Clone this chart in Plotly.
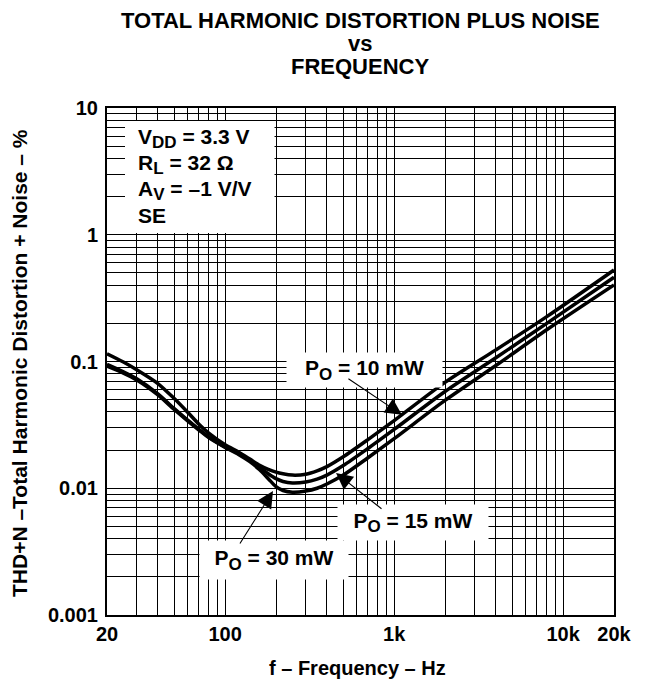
import math
import plotly.graph_objects as go

# ---------------- data ----------------
freq_hz = [20, 25, 30, 40, 50, 60, 70, 80, 100, 120, 140, 160, 180, 200, 220,
           250, 300, 350, 400, 500, 700, 1000, 2000, 4000, 8000, 20000]

thd_10mw = [0.115, 0.099, 0.086, 0.067, 0.051, 0.0398, 0.032, 0.0272, 0.0220,
            0.0193, 0.0170, 0.0152, 0.0141, 0.0134, 0.0130, 0.0127, 0.0129,
            0.0137, 0.0148, 0.0177, 0.0242, 0.0342, 0.0685, 0.1235, 0.226, 0.527]

thd_15mw = [0.095, 0.083, 0.073, 0.0555, 0.0425, 0.0345, 0.0292, 0.0254, 0.0212,
            0.0188, 0.0166, 0.0146, 0.0130, 0.0119, 0.0113, 0.0110, 0.0112,
            0.0118, 0.0127, 0.0151, 0.0206, 0.0291, 0.058, 0.107, 0.200, 0.462]

thd_30mw = [0.092, 0.081, 0.0715, 0.0545, 0.0418, 0.034, 0.0288, 0.0251, 0.0210,
            0.0185, 0.0162, 0.0140, 0.0119, 0.0103, 0.0096, 0.0093, 0.0095,
            0.0100, 0.0108, 0.0127, 0.0174, 0.0246, 0.0493, 0.093, 0.178, 0.402]

x_tick_vals = [20, 100, 1000, 10000, 20000]
x_tick_text = ["20", "100", "1k", "10k", "20k"]
x_grid_vals = [30, 40, 50, 60, 70, 80, 90,
               200, 300, 400, 500, 600, 700, 800, 900,
               2000, 3000, 4000, 5000, 6000, 7000, 8000, 9000]

y_tick_vals = [0.001, 0.01, 0.1, 1, 10]
y_tick_text = ["0.001", "0.01", "0.1", "1", "10"]
y_grid_vals = [0.002, 0.003, 0.004, 0.005, 0.006, 0.007, 0.008, 0.009,
               0.02, 0.03, 0.04, 0.05, 0.06, 0.07, 0.08, 0.09,
               0.2, 0.3, 0.4, 0.5, 0.6, 0.7, 0.8, 0.9,
               2, 3, 4, 5, 6, 7, 8, 9]

title_lines = ["TOTAL HARMONIC DISTORTION PLUS NOISE", "vs", "FREQUENCY"]
x_title = "f \u2013 Frequency \u2013 Hz"
y_title = "THD+N \u2013Total Harmonic Distortion + Noise \u2013 %"
SUB = '<sub><span style="font-size:17px">{}</span></sub>'
cond_lines = ["V" + SUB.format("DD") + " = 3.3 V",
              "R" + SUB.format("L") + " = 32 \u03a9",
              "A" + SUB.format("V") + " = \u20131 V/V",
              "SE"]
curve_labels = ["P" + SUB.format("O") + " = 10 mW",
                "P" + SUB.format("O") + " = 15 mW",
                "P" + SUB.format("O") + " = 30 mW"]

# ---------------- layout helpers ----------------
OFF = 8                      # page body margin of the html page
W, H = 645 - OFF, 679 - OFF  # figure size so that it fits the window
PX0, PX1, PY0, PY1 = 107, 614, 108, 615   # plot box in window pixels
L, T = PX0 - OFF, PY0 - OFF
R, B = W - (PX1 - OFF), H - (PY1 - OFF)
PW, PH = W - L - R, H - T - B
FONT = "Liberation Sans, Arial, Helvetica, sans-serif"


def pxx(x):
    return (x - PX0) / PW


def pxy(y):
    return (PY1 - y) / PH


fig = go.Figure()
for vals in (thd_10mw, thd_15mw, thd_30mw):
    fig.add_trace(go.Scatter(
        x=freq_hz, y=vals, mode="lines",
        line=dict(color="black", width=3.5, shape="spline", smoothing=0.8),
        showlegend=False, hoverinfo="skip"))

tickfont = dict(family=FONT, size=20, color="black", weight="bold")
axis_common = dict(
    type="log", showgrid=True, gridcolor="black", gridwidth=1,
    showline=True, linecolor="black", linewidth=2, mirror=True,
    tickcolor="rgba(0,0,0,0)", tickfont=tickfont,
    zeroline=False, tickmode="array")

fig.update_layout(
    width=W, height=H,
    margin=dict(l=L, r=R, t=T, b=B),
    paper_bgcolor="white", plot_bgcolor="white",
    xaxis=dict(range=[math.log10(20), math.log10(20000)],
               tickvals=x_tick_vals, ticktext=x_tick_text,
               ticks="",
               minor=dict(tickmode="array", tickvals=x_grid_vals, showgrid=True,
                          gridcolor="black", gridwidth=1, ticks=""),
               **axis_common),
    yaxis=dict(range=[-3, 1],
               tickvals=y_tick_vals, ticktext=y_tick_text,
               ticks="outside", ticklen=3,
               minor=dict(tickmode="array", tickvals=y_grid_vals, showgrid=True,
                          gridcolor="black", gridwidth=1, ticks=""),
               **axis_common),
    font=dict(family=FONT, color="black"),
)

anns = []
bold = dict(family=FONT, color="black", weight="bold")

# title
for txt, yc in zip(title_lines, [20, 43, 66]):
    anns.append(dict(text=txt, x=pxx(360), y=pxy(yc), xref="paper", yref="paper",
                     showarrow=False, xanchor="center", yanchor="middle",
                     font=dict(size=22, **bold)))
# axis titles
anns.append(dict(text=x_title, x=pxx(357), y=pxy(668), xref="paper", yref="paper",
                 showarrow=False, xanchor="center", yanchor="middle",
                 font=dict(size=20, **bold)))
anns.append(dict(text=y_title, x=pxx(19), y=pxy(363), xref="paper", yref="paper",
                 showarrow=False, xanchor="center", yanchor="middle", textangle=-90,
                 height=20, font=dict(size=21, **bold)))

# condition box lines
for txt, yc in zip(cond_lines, [138, 164, 190, 215]):
    anns.append(dict(text=txt, x=pxx(136), y=pxy(yc), xref="paper", yref="paper",
                     showarrow=False, xanchor="left", yanchor="middle",
                     font=dict(size=21, **bold)))

# curve labels with white boxes
label_boxes = [(364, 370, 155, 34), (413, 522, 150, 35), (274, 560, 148, 38)]
for txt, (xc, yc, w, h) in zip(curve_labels, label_boxes):
    anns.append(dict(text=txt, x=pxx(xc), y=pxy(yc), xref="paper", yref="paper",
                     showarrow=False, xanchor="center", yanchor="middle",
                     bgcolor="white", width=w, height=h, borderpad=0,
                     font=dict(size=21, **bold)))

# arrows (tip on the curve, tail offset in px)
arrows = [(1112, 0.038, -55, -37), (453, 0.0132, 47, 37), (192, 0.0095, -34, 54)]
for f, v, ax, ay in arrows:
    anns.append(dict(text="", x=math.log10(f), y=math.log10(v), xref="x", yref="y",
                     showarrow=True, ax=ax, ay=ay, arrowhead=2, arrowsize=3,
                     arrowwidth=1.1, arrowcolor="black", standoff=0))

fig.update_layout(annotations=anns)

# white background of the conditions box (covers grid)
fig.add_shape(type="rect", xref="paper", yref="paper",
              x0=pxx(125), x1=pxx(274.5), y0=pxy(233), y1=pxy(121),
              fillcolor="white", line=dict(width=0), layer="above")

fig.write_html("out.html")
